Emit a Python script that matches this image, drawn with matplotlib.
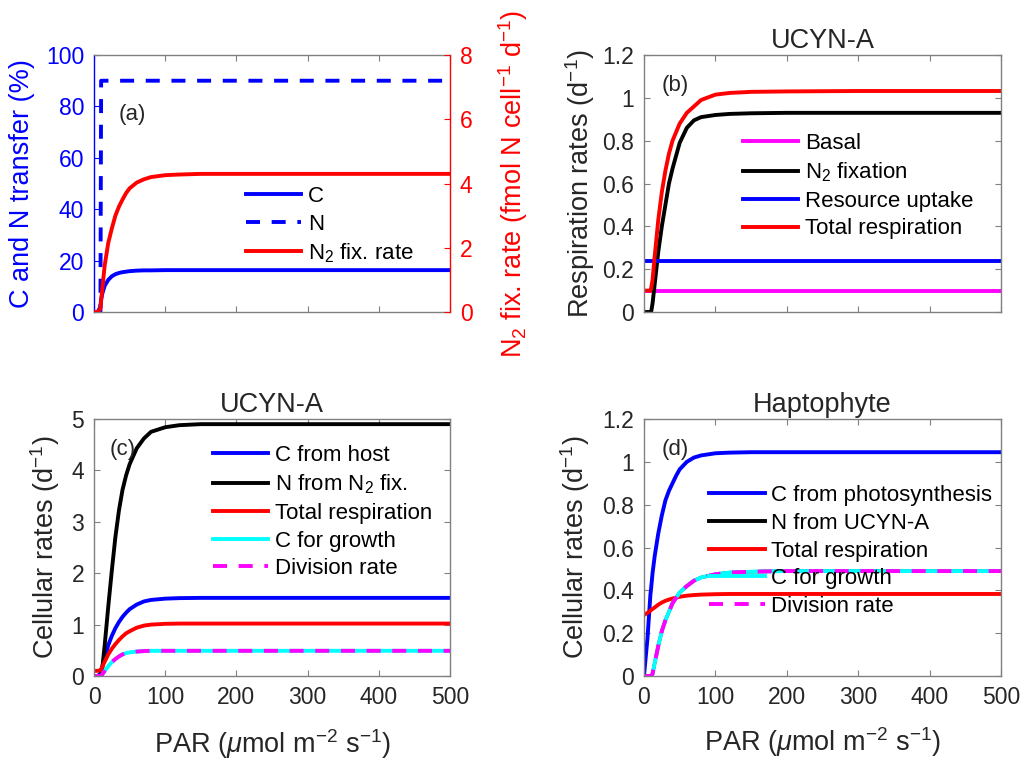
import matplotlib
matplotlib.use('Agg')
import matplotlib.pyplot as plt
from matplotlib.ticker import FormatStrFormatter
from matplotlib.lines import Line2D

plt.rcParams['font.family'] = ['Liberation Sans', 'DejaVu Sans']
plt.rcParams['mathtext.fontset'] = 'custom'
plt.rcParams['mathtext.rm'] = 'Liberation Sans'
plt.rcParams['mathtext.it'] = 'Liberation Sans:italic'
plt.rcParams['mathtext.default'] = 'regular'

# PAR grid (umol m-2 s-1)
par = [0, 5, 9, 10, 12, 15, 20, 25, 30, 35, 40, 45, 50, 60, 70, 80, 100, 120, 150, 200, 300, 400, 500]

# (a) transfer (%) and N2 fixation rate (fmol N cell-1 d-1)
a_c_transfer = [0, 0, 2, 5, 7.5, 10.2, 12.5, 13.9, 14.7, 15.2, 15.5, 15.7, 15.9, 16.1, 16.2, 16.2, 16.3, 16.3, 16.3, 16.3, 16.3, 16.3, 16.3]
a_n_transfer = [0, 0, 0, 90, 90, 90, 90, 90, 90, 90, 90, 90, 90, 90, 90, 90, 90, 90, 90, 90, 90, 90, 90]
a_n2_fix = [0, 0, 0.1, 0.35, 0.8, 1.45, 2.15, 2.6, 3.0, 3.28, 3.5, 3.7, 3.85, 4.03, 4.13, 4.2, 4.26, 4.28, 4.3, 4.3, 4.3, 4.3, 4.3]

# (b) UCYN-A respiration rates (d-1)
b_basal = [0.1] * 23
b_n2_fix = [0, 0, 0, 0, 0.04, 0.13, 0.28, 0.4, 0.5, 0.6, 0.67, 0.73, 0.79, 0.86, 0.895, 0.91, 0.92, 0.925, 0.928, 0.93, 0.93, 0.93, 0.93]
b_uptake = [0.24] * 23
b_total = [0.1, 0.1, 0.1, 0.11, 0.15, 0.26, 0.43, 0.56, 0.66, 0.74, 0.8, 0.84, 0.88, 0.93, 0.96, 0.99, 1.015, 1.023, 1.028, 1.03, 1.032, 1.032, 1.032]

# (c) UCYN-A cellular rates (d-1)
c_c_host = [0, 0, 0.04, 0.08, 0.2, 0.35, 0.6, 0.78, 0.93, 1.05, 1.15, 1.23, 1.3, 1.39, 1.45, 1.48, 1.505, 1.515, 1.52, 1.52, 1.52, 1.52, 1.52]
c_n_fix = [0, 0, 0, 0.02, 0.2, 0.6, 1.35, 2.05, 2.7, 3.22, 3.62, 3.9, 4.12, 4.43, 4.62, 4.75, 4.84, 4.88, 4.9, 4.9, 4.9, 4.9, 4.9]
c_resp = [0.1, 0.1, 0.11, 0.13, 0.19, 0.28, 0.42, 0.53, 0.62, 0.7, 0.77, 0.83, 0.87, 0.94, 0.98, 1.0, 1.015, 1.02, 1.02, 1.02, 1.02, 1.02, 1.02]
c_growth = [0, 0, 0, 0, 0.04, 0.1, 0.19, 0.27, 0.33, 0.38, 0.42, 0.445, 0.46, 0.475, 0.485, 0.49, 0.49, 0.49, 0.49, 0.49, 0.49, 0.49, 0.49]
c_division = [0, 0, 0, 0, 0.04, 0.1, 0.19, 0.27, 0.33, 0.38, 0.42, 0.445, 0.46, 0.475, 0.485, 0.49, 0.49, 0.49, 0.49, 0.49, 0.49, 0.49, 0.49]

# (d) haptophyte cellular rates (d-1)
d_c_photo = [0, 0.18, 0.38, 0.41, 0.48, 0.56, 0.665, 0.75, 0.82, 0.865, 0.9, 0.935, 0.965, 1.0, 1.02, 1.03, 1.04, 1.043, 1.045, 1.045, 1.045, 1.045, 1.045]
d_n_ucyn = [0, 0, 0, 0, 0.01, 0.06, 0.14, 0.21, 0.26, 0.3, 0.34, 0.365, 0.39, 0.42, 0.445, 0.46, 0.475, 0.483, 0.487, 0.49, 0.49, 0.49, 0.49]
d_resp = [0.285, 0.295, 0.305, 0.308, 0.313, 0.32, 0.333, 0.343, 0.351, 0.357, 0.362, 0.366, 0.37, 0.375, 0.378, 0.38, 0.382, 0.383, 0.383, 0.383, 0.383, 0.383, 0.383]
d_growth = [0, 0, 0, 0, 0.01, 0.06, 0.14, 0.21, 0.26, 0.3, 0.34, 0.365, 0.39, 0.42, 0.445, 0.46, 0.475, 0.483, 0.487, 0.49, 0.49, 0.49, 0.49]
d_division = [0, 0, 0, 0, 0.01, 0.06, 0.14, 0.21, 0.26, 0.3, 0.34, 0.365, 0.39, 0.42, 0.445, 0.46, 0.475, 0.483, 0.487, 0.49, 0.49, 0.49, 0.49]

BLUE = '#0000ff'
RED = '#ff0000'
CYAN = '#00ffff'
MAG = '#ff00ff'
GREY = '#808080'
TXT = '#262626'
LW = 2.8
DASH = (3.6, 3)
TICK_FS = 16.5
LAB_FS = 19.5
LEG_FS = 16
PAR_LABEL = r'PAR ($\mathit{\mu}$mol m$^{-2}$ s$^{-1}$)'

fig = plt.figure(figsize=(10.23, 7.61), dpi=100)
ax_a = fig.add_axes([0.0919, 0.590, 0.348, 0.3377])
ax_b = fig.add_axes([0.6295, 0.590, 0.349, 0.3377])
ax_c = fig.add_axes([0.0919, 0.1117, 0.348, 0.3377])
ax_d = fig.add_axes([0.6295, 0.1117, 0.349, 0.3377])


def style(ax):
    ax.set_xlim(0, 500)
    ax.set_xticks([0, 100, 200, 300, 400, 500])
    for s in ax.spines.values():
        s.set_color(GREY)
        s.set_linewidth(1.0)
    ax.tick_params(direction='in', top=True, right=True, length=4, width=0.8,
                   colors=GREY, labelcolor=TXT, labelsize=TICK_FS, pad=7)


def legend(ax, handles, labels, x, y):
    ax.legend(handles, labels, loc='center left', bbox_to_anchor=(x, y),
              frameon=False, fontsize=LEG_FS, handlelength=2.5,
              handletextpad=0.3, labelspacing=0.3, borderpad=0, borderaxespad=0)


# (a)
style(ax_a)
ax_a.tick_params(right=False, labelbottom=False)
ax_a.plot(par, a_c_transfer, color=BLUE, lw=LW)
ax_a.plot(par, a_n_transfer, color=BLUE, lw=LW, dashes=DASH)
ax_a.set_ylim(0, 100)
ax_a.set_yticks([0, 20, 40, 60, 80, 100])
ax_a.tick_params(axis='y', colors=BLUE, labelcolor=BLUE)
ax_a.spines['left'].set_color(BLUE)
ax_a.set_ylabel('C and N transfer (%)', fontsize=LAB_FS, color=BLUE)
ax_a.yaxis.set_label_coords(-0.167, 0.5)
ax_ar = ax_a.twinx()
ax_ar.plot(par, a_n2_fix, color=RED, lw=LW)
ax_ar.set_ylim(0, 8)
ax_ar.set_yticks([0, 2, 4, 6, 8])
ax_ar.tick_params(axis='y', direction='in', length=4, width=0.8, colors=RED,
                  labelcolor=RED, labelsize=TICK_FS, pad=7)
for s in ax_ar.spines.values():
    s.set_visible(False)
ax_a.spines['right'].set_color(RED)
ax_ar.set_ylabel(r'N$_2$ fix. rate (fmol N cell$^{-1}$ d$^{-1}$)', fontsize=LAB_FS, color=RED)
ax_ar.yaxis.set_label_coords(1.129, 0.5)
ax_a.text(0.07, 0.767, '(a)', transform=ax_a.transAxes, fontsize=LEG_FS, color=TXT, va='center')
h_a = [Line2D([], [], color=BLUE, lw=LW),
       Line2D([], [], color=BLUE, lw=LW, dashes=DASH),
       Line2D([], [], color=RED, lw=LW)]
legend(ax_ar, h_a, ['C', 'N', r'N$_2$ fix. rate'], 0.426, 0.337)

# (b)
style(ax_b)
ax_b.tick_params(labelbottom=False)
ax_b.plot(par, b_basal, color=MAG, lw=LW, label='Basal')
ax_b.plot(par, b_n2_fix, color='black', lw=LW, label=r'N$_2$ fixation')
ax_b.plot(par, b_uptake, color=BLUE, lw=LW, label='Resource uptake')
ax_b.plot(par, b_total, color=RED, lw=LW, label='Total respiration')
ax_b.set_ylim(0, 1.2)
ax_b.set_yticks([0, 0.2, 0.4, 0.6, 0.8, 1.0, 1.2])
ax_b.yaxis.set_major_formatter(FormatStrFormatter('%g'))
ax_b.set_ylabel(r'Respiration rates (d$^{-1}$)', fontsize=LAB_FS, color=TXT)
ax_b.yaxis.set_label_coords(-0.132, 0.5)
ax_b.set_title('UCYN-A', fontsize=LAB_FS, color=TXT, pad=5)
ax_b.text(0.05, 0.88, '(b)', transform=ax_b.transAxes, fontsize=LEG_FS, color=TXT, va='center')
h, l = ax_b.get_legend_handles_labels()
legend(ax_b, h, l, 0.277, 0.49)

# (c)
style(ax_c)
ax_c.plot(par, c_c_host, color=BLUE, lw=LW, label='C from host')
ax_c.plot(par, c_n_fix, color='black', lw=LW, label=r'N from N$_2$ fix.')
ax_c.plot(par, c_resp, color=RED, lw=LW, label='Total respiration')
ax_c.plot(par, c_growth, color=CYAN, lw=LW, label='C for growth')
ax_c.plot(par, c_division, color=MAG, lw=LW, dashes=DASH, label='Division rate')
ax_c.set_ylim(0, 5)
ax_c.set_yticks([0, 1, 2, 3, 4, 5])
ax_c.set_ylabel(r'Cellular rates (d$^{-1}$)', fontsize=LAB_FS, color=TXT)
ax_c.yaxis.set_label_coords(-0.09, 0.5)
ax_c.set_xlabel(PAR_LABEL, fontsize=LAB_FS, color=TXT)
ax_c.xaxis.set_label_coords(0.5, -0.2)
ax_c.set_title('UCYN-A', fontsize=LAB_FS, color=TXT, pad=5)
ax_c.text(0.045, 0.88, '(c)', transform=ax_c.transAxes, fontsize=LEG_FS, color=TXT, va='center')
h, l = ax_c.get_legend_handles_labels()
legend(ax_c, h, l, 0.333, 0.638)

# (d)
style(ax_d)
ax_d.plot(par, d_c_photo, color=BLUE, lw=LW, label='C from photosynthesis')
ax_d.plot(par, d_n_ucyn, color='black', lw=LW - 0.4, label='N from UCYN-A')
ax_d.plot(par, d_resp, color=RED, lw=LW, label='Total respiration')
ax_d.plot(par, d_growth, color=CYAN, lw=LW, label='C for growth')
ax_d.plot(par, d_division, color=MAG, lw=LW, dashes=DASH, label='Division rate')
ax_d.set_ylim(0, 1.2)
ax_d.set_yticks([0, 0.2, 0.4, 0.6, 0.8, 1.0, 1.2])
ax_d.yaxis.set_major_formatter(FormatStrFormatter('%g'))
ax_d.set_ylabel(r'Cellular rates (d$^{-1}$)', fontsize=LAB_FS, color=TXT)
ax_d.yaxis.set_label_coords(-0.146, 0.5)
ax_d.set_xlabel(PAR_LABEL, fontsize=LAB_FS, color=TXT)
ax_d.xaxis.set_label_coords(0.5, -0.19)
ax_d.set_title('Haptophyte', fontsize=LAB_FS, color=TXT, pad=5)
ax_d.text(0.05, 0.883, '(d)', transform=ax_d.transAxes, fontsize=LEG_FS, color=TXT, va='center')
h, l = ax_d.get_legend_handles_labels()
h[1] = Line2D([], [], color='black', lw=LW)
legend(ax_d, h, l, 0.182, 0.486)

fig.savefig('out.png', dpi=100)
